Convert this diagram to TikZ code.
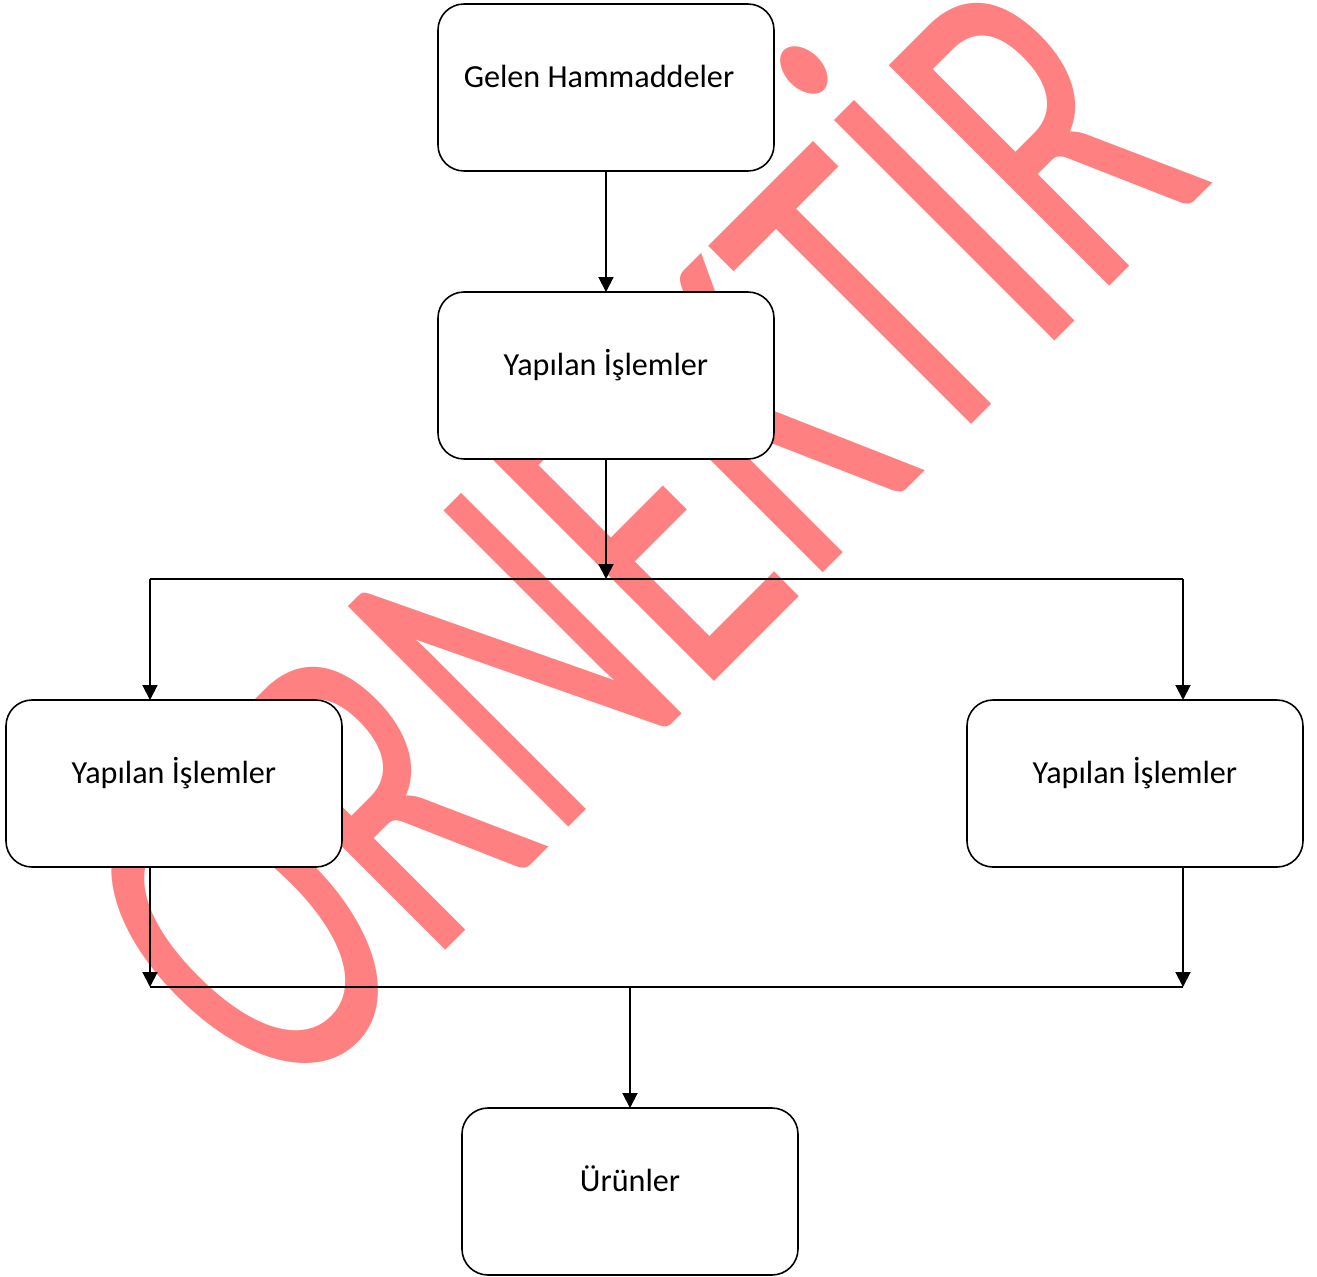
\documentclass[tikz,border=0pt]{standalone}
\usepackage{fontspec}
\setmainfont{Carlito}
\usepackage{tikz}
\usetikzlibrary{positioning, arrows.meta}
\definecolor{wmred}{RGB}{255,128,128}

\begin{document}
\begin{tikzpicture}[
        node distance=2.42cm, % Distance between boxes
        box/.style={draw, rounded corners=0.52cm, fill=white, line width=0.9pt, outer sep=0pt, minimum width=6.72cm, minimum height=3.34cm, text height=0.45cm, text depth=0.45cm, font=\fontsize{18.3pt}{22pt}\selectfont}, % Box style
        arrow/.style={-{Triangle[length=0.3cm, width=0.3cm]}, line width=1.1pt}, % Arrow style
        link/.style={line width=1pt} % Plain line style
    ]

    % Page frame
    \useasboundingbox (-12.12,1.75) rectangle (14.22,-23.79);

    % Watermark
    \node[text=wmred, rotate=45, anchor=base, inner sep=0pt, font=\fontsize{182pt}{200pt}\selectfont] (wm) at (2.85,-11.2) {\scalebox{1}[1.52]{ÖRNEKTİR}};

    % Boxes
    \node (b1) [box] at (0,0) {Gelen Hammaddeler\hspace*{0.28cm}};
    \node (b2) [box, below=of b1] {Yapılan İşlemler};
    \node (b3) [box, below=4.82cm of b2, xshift=-8.64cm] {Yapılan İşlemler};
    \node (b4) [box, below=4.82cm of b2, xshift=10.58cm] {Yapılan İşlemler};
    \node (b5) [box, below=4.82cm of b3, xshift=9.12cm] {Ürünler};

    % Split and merge points
    \coordinate (split) at (0,-9.83);
    \coordinate (splitL) at (-9.12,-9.83);
    \coordinate (splitR) at (11.54,-9.83);
    \coordinate (mergeL) at (-9.12,-17.99);
    \coordinate (mergeR) at (11.54,-17.99);
    \coordinate (merge) at (0.48,-17.99);

    % Connections
    \draw[arrow] (b1) -- (b2);
    \draw[arrow] (b2) -- (split);
    \draw[link] (splitL) -- (splitR);
    \draw[arrow] (splitL) -- (splitL |- b3.north);
    \draw[arrow] (splitR) -- (splitR |- b4.north);
    \draw[arrow] (splitL |- b3.south) -- (mergeL);
    \draw[arrow] (splitR |- b4.south) -- (mergeR);
    \draw[link] (mergeL) -- (mergeR);
    \draw[arrow] (merge) -- (b5);

\end{tikzpicture}
\end{document}
